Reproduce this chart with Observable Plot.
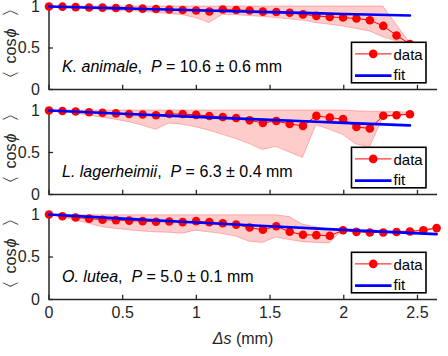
<!DOCTYPE html>
<html><head><meta charset="utf-8">
<script src="https://cdn.jsdelivr.net/npm/d3@7"></script>
<script src="https://cdn.jsdelivr.net/npm/@observablehq/plot@0.6"></script>
<style>
body{margin:0;background:#fff;}
#chart{position:relative;width:448px;height:356px;font-family:"Liberation Sans",Arial,Helvetica,sans-serif;}
.panel{position:absolute;left:0;}
#overlay{position:absolute;left:0;top:0;}
</style></head>
<body><div id="chart"></div>
<script>
// Δs (mm) sample positions
const ds = [0, 0.091, 0.181, 0.272, 0.363, 0.454, 0.544, 0.635, 0.726, 0.816, 0.907, 0.998, 1.088, 1.179, 1.270,
            1.361, 1.451, 1.542, 1.633, 1.723, 1.814, 1.905, 1.995, 2.086, 2.177, 2.268, 2.358, 2.449, 2.540, 2.630];

// K. animale
const kMean  = [1.0, 0.998, 0.992, 0.988, 0.986, 0.982, 0.978, 0.974, 0.970, 0.964, 0.958, 0.952, 0.940, 0.964,
                0.958, 0.952, 0.938, 0.933, 0.925, 0.905, 0.887, 0.873, 0.867, 0.855, 0.835, 0.766, 0.651, 0.548];
const kLower = [1.0, 0.99, 0.98, 0.97, 0.96, 0.95, 0.945, 0.935, 0.925, 0.91, 0.895, 0.86, 0.80, 0.90,
                0.895, 0.885, 0.875, 0.86, 0.845, 0.83, 0.80, 0.78, 0.76, 0.73, 0.70, 0.63, 0.58, 0.54];
const kUpper = [1.0, 1.0, 1.0, 1.0, 1.0, 1.0, 1.0, 1.0, 1.0, 1.0, 1.0, 1.0, 1.0, 1.0,
                1.0, 1.0, 1.0, 1.0, 1.0, 1.0, 1.0, 1.0, 1.0, 1.0, 1.0, 1.0, 0.78, 0.56];
const kFitX = [0, 0.5, 1.0, 1.5, 2.0, 2.449];
const kFitY = [1.0, 0.977, 0.954, 0.932, 0.910, 0.891];

// L. lagerheimii
const lMean  = [1.0, 0.994, 0.988, 0.98, 0.974, 0.966, 0.958, 0.952, 0.944, 0.958, 0.958, 0.948, 0.935, 0.923,
                0.91, 0.883, 0.853, 0.875, 0.84, 0.817, 0.936, 0.915, 0.897, 0.804, 0.786, 0.937, 0.944, 0.956];
const lLower = [1.0, 0.985, 0.965, 0.94, 0.915, 0.89, 0.86, 0.82, 0.77, 0.845, 0.83, 0.80, 0.76, 0.71,
                0.66, 0.60, 0.53, 0.567, 0.50, 0.436, 0.825, 0.77, 0.71, 0.595, 0.56, 0.91, 0.94, 0.955];
const lUpper = [1.0, 1.0, 1.0, 1.0, 1.0, 1.0, 1.0, 1.0, 1.0, 1.0, 1.0, 1.0, 1.0, 1.0,
                1.0, 1.0, 1.0, 1.0, 1.0, 1.0, 1.0, 1.0, 1.0, 0.99, 0.985, 0.985, 0.98, 0.975];
const lFitX = [0, 0.5, 1.0, 1.5, 2.0, 2.449];
const lFitY = [1.0, 0.961, 0.924, 0.888, 0.853, 0.823];

// O. lutea
const oMean  = [1.0, 0.98, 0.965, 0.951, 0.939, 0.934, 0.928, 0.922, 0.914, 0.918, 0.91, 0.922, 0.91, 0.897, 0.881,
                0.847, 0.82, 0.861, 0.797, 0.762, 0.757, 0.75, 0.814, 0.796, 0.789, 0.789, 0.795, 0.80, 0.814, 0.84];
const oLower = [1.0, 0.965, 0.93, 0.89, 0.85, 0.83, 0.815, 0.80, 0.79, 0.785, 0.775, 0.81, 0.79, 0.77, 0.74,
                0.68, 0.665, 0.73, 0.70, 0.675, 0.665, 0.66, 0.814, 0.796, 0.789, 0.789, 0.795, 0.80, 0.814, 0.84];
const oUpper = [1.0, 0.99, 0.99, 0.99, 0.99, 0.99, 0.99, 0.99, 0.99, 0.99, 0.99, 0.99, 0.99, 0.99, 0.99,
                0.99, 0.99, 0.99, 0.97, 0.88, 0.85, 0.82, 0.814, 0.796, 0.789, 0.789, 0.795, 0.80, 0.814, 0.84];
const oFitX = [0, 0.5, 1.0, 1.5, 2.0, 2.63];
const oFitY = [1.0, 0.951, 0.905, 0.861, 0.819, 0.769];

const xTicks = [0, 0.5, 1, 1.5, 2, 2.5];
const yTicks = [0, 0.5, 1];
const species = ["K. animale", "L. lagerheimii", "O. lutea"];
const periods = ["10.6 ± 0.6 mm", "6.3 ± 0.4 mm", "5.0 ± 0.1 mm"];

const FONT = '"Liberation Sans", Arial, Helvetica, sans-serif';
const AX = "#262626";

const panels = [
  {mean: kMean, lower: kLower, upper: kUpper, fx: kFitX, fy: kFitY, top: 0, mt: 6, height: 100, mb: 11, showX: false},
  {mean: lMean, lower: lLower, upper: lUpper, fx: lFitX, fy: lFitY, top: 105, mt: 5, height: 100, mb: 11, showX: false},
  {mean: oMean, lower: oLower, upper: oUpper, fx: oFitX, fy: oFitY, top: 209, mt: 5, height: 147, mb: 57, showX: true}
];

const chart = document.getElementById("chart");

panels.forEach(p => {
  const rows = p.mean.map((m, i) => ({x: ds[i], m, lo: p.lower[i], hi: p.upper[i]}));
  const fit = p.fx.map((x, i) => ({x, y: p.fy[i]}));
  const marks = [
    Plot.areaY(rows, {x: "x", y1: "lo", y2: "hi", fill: "#ff0000", fillOpacity: 0.2,
                      stroke: "#ff0000", strokeOpacity: 0.25, strokeWidth: 1}),
    Plot.ruleY([0], {stroke: AX, strokeWidth: 1.5}),
    Plot.ruleX([0], {y1: 0, y2: 1, stroke: AX, strokeWidth: 1.5}),
    Plot.ruleX(xTicks, {x: d => d, y1: 0, y2: 0.05, stroke: AX, strokeWidth: 1.3}),
    Plot.ruleY(yTicks, {y: d => d, x1: 0, x2: 0.03, stroke: AX, strokeWidth: 1.3}),
    Plot.line(rows, {x: "x", y: "m", stroke: "#ff0000", strokeWidth: 1}),
    Plot.dot(rows, {x: "x", y: "m", r: 4.3, fill: "#ff0000", stroke: "none"}),
    Plot.line(fit, {x: "x", y: "y", stroke: "#0000ff", strokeWidth: 2.6, curve: "monotone-x"}),
    Plot.axisY({ticks: yTicks, tickSize: 0, tickPadding: 9, label: null,
                tickFormat: d => d === 0.5 ? "0.5" : String(d), fill: AX})
  ];
  if (p.showX) {
    marks.push(Plot.axisX({ticks: xTicks, tickSize: 0, tickPadding: 7.5, label: null,
                           tickFormat: d => String(d), fill: AX}));
  }
  const svg = Plot.plot({
    width: 448, height: p.height,
    marginLeft: 48.5, marginRight: 11, marginTop: p.mt, marginBottom: p.mb,
    style: {fontFamily: FONT, fontSize: "16px", background: "transparent", overflow: "visible", color: AX},
    x: {domain: [0, 2.636], axis: null},
    y: {domain: [0, 1], axis: null},
    marks
  });
  svg.classList.add("panel");
  svg.style.top = p.top + "px";
  chart.appendChild(svg);
});

// overlay: y labels, annotations, legends, x label
const ns = "http://www.w3.org/2000/svg";
const ov = document.createElementNS(ns, "svg");
ov.setAttribute("id", "overlay");
ov.setAttribute("width", 448);
ov.setAttribute("height", 356);
ov.style.fontFamily = FONT;
let html = "";
const axisY0 = [89, 194, 299];
axisY0.forEach((y0, k) => {
  // y label: ⟨cosϕ⟩ rotated
  html += `<g transform="translate(15.5,${y0 - 45}) rotate(-90)" fill="${AX}" font-size="16">` +
          `<text transform="translate(-31,0.5) scale(1.7,1.1)" text-anchor="middle" stroke="#fff" stroke-width="0.7">⟨</text>` +
          `<text x="-19.5">cos<tspan font-style="italic" dx="1">ϕ</tspan></text>` +
          `<text transform="translate(31,0.5) scale(1.7,1.1)" text-anchor="middle" stroke="#fff" stroke-width="0.7">⟩</text>` +
          `</g>`;
  // annotation
  html += `<text x="62" y="${y0 - 17.5}" font-size="16" fill="#000" style="white-space:pre"><tspan font-style="italic">${species[k]}</tspan>,  <tspan font-style="italic">P</tspan> = ${periods[k]}</text>`;
  // legend
  const t = y0 - 46.7;
  html += `<rect x="351.5" y="${t}" width="74.5" height="40.5" fill="#fff" stroke="#000" stroke-width="1.6"/>`;
  html += `<line x1="355" x2="391.5" y1="${t + 11.6}" y2="${t + 11.6}" stroke="#ff0000" stroke-width="1"/>`;
  html += `<circle cx="373.2" cy="${t + 11.6}" r="4.3" fill="#ff0000"/>`;
  html += `<text x="393.5" y="${t + 17.3}" font-size="15" fill="#000">data</text>`;
  html += `<line x1="355" x2="391.5" y1="${t + 33.3}" y2="${t + 33.3}" stroke="#0000ff" stroke-width="2.6"/>`;
  html += `<text x="393.5" y="${t + 37.8}" font-size="15" fill="#000">fit</text>`;
});
html += `<text x="243" y="344" text-anchor="middle" font-size="16" fill="${AX}"><tspan font-style="italic">Δs</tspan> (mm)</text>`;
ov.innerHTML = html;
chart.appendChild(ov);
</script>
</body></html>
